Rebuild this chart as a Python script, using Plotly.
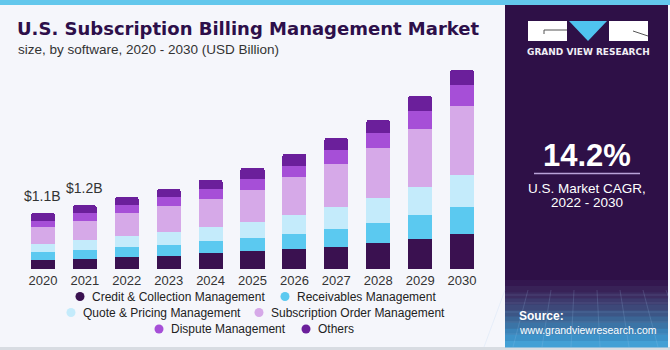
import plotly.graph_objects as go

years = ["2020", "2021", "2022", "2023", "2024", "2025", "2026", "2027", "2028", "2029", "2030"]
segments = ["Credit & Collection Management", "Receivables Management",
            "Quote & Pricing Management", "Subscription Order Management",
            "Dispute Management", "Others"]
credit = [0.18, 0.20, 0.24, 0.26, 0.31, 0.35, 0.39, 0.44, 0.51, 0.59, 0.69]
receivables = [0.15, 0.17, 0.20, 0.22, 0.24, 0.26, 0.30, 0.35, 0.39, 0.46, 0.52]
quote = [0.17, 0.19, 0.21, 0.24, 0.27, 0.31, 0.36, 0.42, 0.49, 0.55, 0.64]
subscription = [0.32, 0.38, 0.44, 0.52, 0.56, 0.63, 0.75, 0.85, 0.99, 1.15, 1.34]
dispute = [0.13, 0.15, 0.17, 0.17, 0.19, 0.22, 0.22, 0.27, 0.29, 0.35, 0.41]
others = [0.15, 0.16, 0.15, 0.16, 0.18, 0.22, 0.24, 0.24, 0.25, 0.29, 0.31]
series = [credit, receivables, quote, subscription, dispute, others]
colors = ["#3a1150", "#5bc9f0", "#c4ebfb", "#d6a9e8", "#a64fd7", "#6b1f9b"]
total_labels = {"2020": "$1.1B", "2021": "$1.2B"}

W, H = 670, 350
L, R, T, B = 22, 187, 60, 81
PW, PH = W - L - R, H - T - B
FONT = "Liberation Sans, Arial, sans-serif"
TFONT = "DejaVu Sans, sans-serif"


def px(x):
    return (x - L) / PW


def py(y):
    return (H - B - y) / PH


fig = go.Figure()
for name, vals, col in zip(segments, series, colors):
    fig.add_trace(go.Bar(x=years, y=vals, name=name, marker=dict(color=col, line=dict(width=0)),
                         showlegend=False, hoverinfo="skip"))

totals = [sum(v) for v in zip(*series)]
for i, (yr, tot) in enumerate(zip(years, totals)):
    if yr in total_labels:
        fig.add_annotation(x=i, y=tot, yshift=17, text=total_labels[yr], showarrow=False,
                           font=dict(family=FONT, size=14, color="#333333"), xref="x", yref="y")

shapes = []
# top strip
shapes.append(dict(type="rect", xref="paper", yref="paper", x0=px(0), x1=px(670), y0=py(5), y1=py(0),
                   fillcolor="#63c7ec", line=dict(width=0), layer="below"))
# bottom strip
shapes.append(dict(type="rect", xref="paper", yref="paper", x0=px(0), x1=px(670), y0=py(350), y1=py(347),
                   fillcolor="#d8dce2", line=dict(width=0), layer="below"))
# right panel
shapes.append(dict(type="rect", xref="paper", yref="paper", x0=px(505), x1=px(668), y0=py(347), y1=py(5),
                   fillcolor="#2e1047", line=dict(width=0), layer="below"))
# gradient at bottom of panel
grad = ["#33174f", "#382257", "#3c2d61", "#3d3a6d", "#3d4879", "#3c5686", "#3b6595", "#3b74a6",
        "#3b83b8", "#3d92c8", "#43a0d5"]
y_start, y_end = 280, 347
n = len(grad)
for i, c in enumerate(grad):
    ya = y_start + (y_end - y_start) * i / n
    yb = y_start + (y_end - y_start) * (i + 1) / n
    shapes.append(dict(type="rect", xref="paper", yref="paper", x0=px(505), x1=px(668), y0=py(yb + 0.5),
                       y1=py(ya), fillcolor=c, line=dict(width=0), layer="below"))
# faint grid lines in the gradient
for k in range(8):
    xx = 505 + k * 23
    shapes.append(dict(type="line", xref="paper", yref="paper", x0=px(xx), x1=px(xx + (k - 3.5) * 6),
                       y0=py(290), y1=py(347), line=dict(color="rgba(160,200,240,0.18)", width=1)))
for yy in [295, 303, 312, 322, 334]:
    shapes.append(dict(type="line", xref="paper", yref="paper", x0=px(505), x1=px(668),
                       y0=py(yy), y1=py(yy), line=dict(color="rgba(160,200,240,0.15)", width=1)))
# logo
shapes.append(dict(type="rect", xref="paper", yref="paper", x0=px(528), x1=px(567), y0=py(41), y1=py(21),
                   fillcolor="white", line=dict(width=0)))
shapes.append(dict(type="rect", xref="paper", yref="paper", x0=px(609), x1=px(648), y0=py(41), y1=py(21),
                   fillcolor="white", line=dict(width=0)))
shapes.append(dict(type="path", xref="paper", yref="paper",
                   path=f"M {px(569)},{py(21)} L {px(607)},{py(21)} L {px(588)},{py(41)} Z",
                   fillcolor="#4fc3ef", line=dict(width=0)))
shapes.append(dict(type="line", xref="paper", yref="paper", x0=px(544), x1=px(567), y0=py(30), y1=py(30),
                   line=dict(color="#555555", width=1)))
shapes.append(dict(type="line", xref="paper", yref="paper", x0=px(544), x1=px(544), y0=py(30), y1=py(34),
                   line=dict(color="#555555", width=1)))
shapes.append(dict(type="line", xref="paper", yref="paper", x0=px(633), x1=px(648), y0=py(31), y1=py(36),
                   line=dict(color="#555555", width=1)))
# CAGR separator
shapes.append(dict(type="line", xref="paper", yref="paper", x0=px(534), x1=px(640), y0=py(173.5), y1=py(173.5),
                   line=dict(color="#b9a2d8", width=1.5)))

# legend markers (manual, centered rows)
legend_pos = [(80, 296.5), (285, 296.5), (71, 312.5), (259, 312.5), (159, 329), (306, 329)]
for (mx, my), col, name in zip(legend_pos, colors, segments):
    r = 4.5
    shapes.append(dict(type="circle", xref="paper", yref="paper", x0=px(mx - r), x1=px(mx + r),
                       y0=py(my + r), y1=py(my - r), fillcolor=col, line=dict(width=0)))
    fig.add_annotation(x=px(mx + 10), y=py(my), xref="paper", yref="paper", xanchor="left", yanchor="middle",
                       text=name, showarrow=False, font=dict(family=FONT, size=12, color="#222222"))

fig.update_layout(shapes=shapes)


def txt(x, y, s, size, color, bold=False, xanchor="left", family=FONT):
    fig.add_annotation(x=px(x), y=py(y), xref="paper", yref="paper", xanchor=xanchor, yanchor="middle",
                       text=(f"<b>{s}</b>" if bold else s), showarrow=False,
                       font=dict(family=family, size=size, color=color))


txt(15, 28.5, "U.S. Subscription Billing Management Market", 18, "#2d0f4a", bold=True, family=TFONT)
txt(16, 49.5, "size, by software, 2020 - 2030 (USD Billion)", 13.5, "#333333")
txt(588, 52, "GRAND VIEW RESEARCH", 9, "#f0eef5", bold=True, xanchor="center", family=TFONT)
txt(587, 155, "14.2%", 31, "white", bold=True, xanchor="center")
txt(587, 188, "U.S. Market CAGR,", 13.5, "white", xanchor="center")
txt(587, 202, "2022 - 2030", 13.5, "white", xanchor="center")
txt(517, 315.5, "Source:", 12, "white", bold=True)
txt(517, 330, "www.grandviewresearch.com", 10.5, "white")

fig.update_layout(
    width=W, height=H,
    margin=dict(l=L, r=R, t=T, b=B, pad=0),
    paper_bgcolor="#f5f6fb", plot_bgcolor="rgba(0,0,0,0)",
    barmode="stack", bargap=0.425, barcornerradius=3,
    showlegend=False,
    xaxis=dict(type="category", range=[-0.5, 10.5], showgrid=False, zeroline=False, showline=False,
               ticks="", tickfont=dict(family=FONT, size=13, color="#333333"), ticklabelstandoff=2),
    yaxis=dict(range=[0, PH / 51.0], visible=False, showgrid=False, zeroline=False),
    font=dict(family=FONT),
)

fig.write_html("out.html")
